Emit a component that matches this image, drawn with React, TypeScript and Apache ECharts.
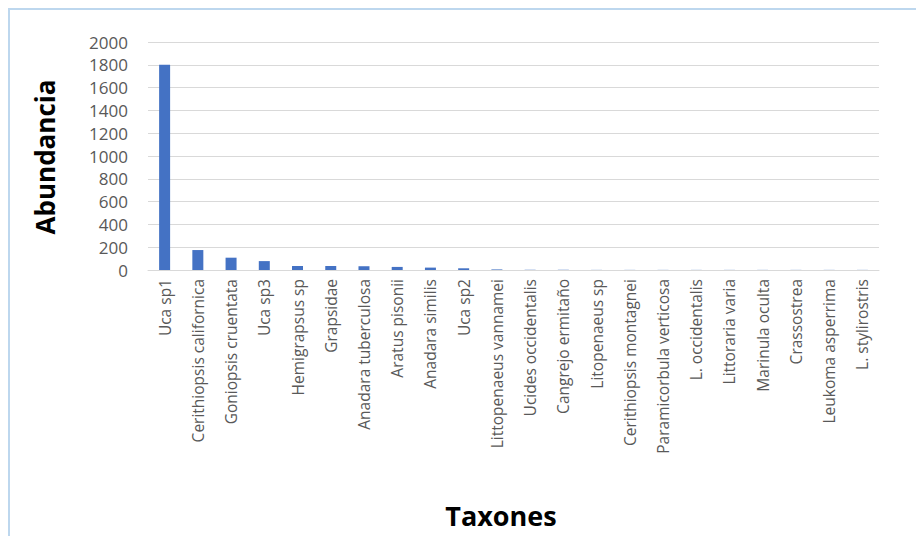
import React, { useEffect, useRef } from "react";
import * as echarts from "echarts";

const categories = [
  "Uca sp1",
  "Cerithiopsis californica",
  "Goniopsis cruentata",
  "Uca sp3",
  "Hemigrapsus sp",
  "Grapsidae",
  "Anadara tuberculosa",
  "Aratus pisonii",
  "Anadara similis",
  "Uca sp2",
  "Littopenaeus vannamei",
  "Ucides occidentalis",
  "Cangrejo ermitaño",
  "Litopenaeus sp",
  "Cerithiopsis montagnei",
  "Paramicorbula verticosa",
  "L. occidentalis",
  "Littoraria varia",
  "Marinula oculta",
  "Crassostrea",
  "Leukoma asperrima",
  "L. stylirostris",
];

const abundance = [1800, 175, 108, 78, 35, 35, 33, 27, 21, 15, 5, 2, 2, 1, 1, 1, 1, 1, 1, 1, 1, 1];

const yTicks = [0, 200, 400, 600, 800, 1000, 1200, 1400, 1600, 1800, 2000];

const FONT = "'Open Sans', 'Noto Sans', sans-serif";

export default function App() {
  const ref = useRef<HTMLDivElement>(null);
  useEffect(() => {
    if (!ref.current) return;
    const chart = echarts.init(ref.current, undefined, { renderer: "svg" });
    chart.setOption({
      animation: false,
      backgroundColor: "#ffffff",
      grid: { left: 148, right: 37, top: 42, bottom: 266, containLabel: false },
      xAxis: {
        type: "category",
        data: categories,
        axisLine: { show: true, lineStyle: { color: "#d9d9d9", width: 1 } },
        axisTick: { show: false },
        axisLabel: {
          rotate: 90,
          interval: 0,
          margin: 9,
          fontSize: 15.5,
          color: "#595959",
          fontFamily: FONT,
        },
      },
      yAxis: {
        type: "value",
        min: yTicks[0],
        max: yTicks[yTicks.length - 1],
        interval: 200,
        axisLine: { show: false },
        axisTick: { show: false },
        splitLine: { lineStyle: { color: "#d9d9d9", width: 1 } },
        axisLabel: {
          fontSize: 17,
          color: "#595959",
          fontFamily: FONT,
          margin: 20,
          formatter: (v: number) => String(v),
        },
      },
      series: [
        {
          type: "bar",
          data: abundance,
          barWidth: 11,
          itemStyle: { color: "#4472c4" },
        },
      ],
      graphic: [
        {
          type: "rect",
          silent: true,
          shape: { x: 9, y: 9, width: 1000, height: 600 },
          style: { fill: "none", stroke: "#bdd7ee", lineWidth: 2 },
        },
        {
          type: "text",
          x: 45,
          y: 157,
          rotation: Math.PI / 2,
          style: {
            text: "Abundancia",
            font: `bold 26px ${FONT}`,
            fill: "#000000",
            textAlign: "center",
            textVerticalAlign: "middle",
          },
        },
        {
          type: "text",
          x: 501,
          y: 515,
          style: {
            text: "Taxones",
            font: `bold 27px ${FONT}`,
            fill: "#000000",
            textAlign: "center",
            textVerticalAlign: "middle",
          },
        },
      ],
    });
    return () => chart.dispose();
  }, []);
  return (
    <div
      ref={ref}
      style={{ position: "fixed", left: 0, top: 0, width: 916, height: 536 }}
    />
  );
}
